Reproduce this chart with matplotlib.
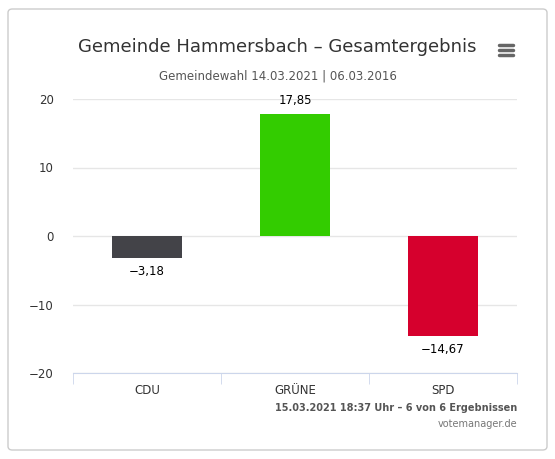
import matplotlib
matplotlib.use("Agg")
import matplotlib.pyplot as plt
from matplotlib.patches import FancyBboxPatch

parties = ["CDU", "GRÜNE", "SPD"]
values = [-3.18, 17.85, -14.67]
colors = ["#434348", "#33cc00", "#d6002d"]
yticks = [-20, -10, 0, 10, 20]

fig = plt.figure(figsize=(5.55, 4.59), dpi=100)
fig.patches.append(FancyBboxPatch((8/555, 9/459), 539/555, 441/459,
    boxstyle="round,pad=0,rounding_size=0.008", transform=fig.transFigure,
    fc="white", ec="#cccccc", lw=1, zorder=-10))
ax = fig.add_axes([73/555, 1-373/459, 444/555, 274/459])
ax.set_zorder(5)
ax.patch.set_alpha(0)
x = range(len(parties))
bars = ax.bar(x, values, width=0.47, color=colors, zorder=3)
for xi, v in zip(x, values):
    lab = f"{v:.2f}".replace(".", ",").replace("-", "−")
    ax.annotate(lab, (xi, v), xytext=(0, 5 if v > 0 else -5), textcoords="offset points",
                ha="center", va="bottom" if v > 0 else "top", fontsize=8.5, color="black")
ax.set_xlim(-0.5, 2.5)
ax.set_ylim(-20, 20)
ax.set_yticks(yticks)
ax.set_yticklabels([str(t).replace("-", "−") for t in yticks], fontsize=8.5, color="#333333")
ax.set_xticks(list(x))
ax.set_xticklabels(parties, fontsize=8.5, color="#333333")
ax.set_xticks([-0.5, 0.5, 1.5, 2.5], minor=True)
ax.tick_params(axis="x", which="major", length=0, pad=8)
ax.tick_params(axis="x", which="minor", length=8, color="#ccd6eb")
ax.tick_params(axis="y", length=0, pad=14)
ax.grid(axis="y", color="#e6e6e6", lw=1, zorder=0)
for s in ["top", "right", "left"]:
    ax.spines[s].set_visible(False)
ax.spines["bottom"].set_color("#ccd6eb")
fig.text(0.5, 1-47/459, "Gemeinde Hammersbach – Gesamtergebnis", ha="center", va="center",
         fontsize=13, color="#333333")
fig.text(0.5, 1-76/459, "Gemeindewahl 14.03.2021 | 06.03.2016", ha="center", va="center",
         fontsize=8.5, color="#555555")
fig.text(517/555, 1-408/459, "15.03.2021 18:37 Uhr – 6 von 6 Ergebnissen", ha="right", va="center",
         fontsize=7, color="#555555", fontweight="bold")
fig.text(517/555, 1-424/459, "votemanager.de", ha="right", va="center", fontsize=7, color="#777777")
for dy in (-5, 0, 5):
    fig.add_artist(plt.Line2D([499/555, 513/555], [(459-50+dy)/459]*2, color="#666666", lw=2.5,
                              solid_capstyle="round"))
fig.savefig("out.png", dpi=100)
